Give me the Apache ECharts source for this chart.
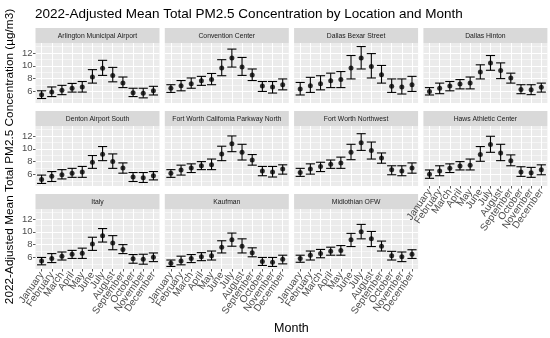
<!DOCTYPE html>
<html>
<head>
<meta charset="utf-8">
<script src="https://cdn.jsdelivr.net/npm/echarts@6/dist/echarts.min.js"></script>
<style>html,body{margin:0;padding:0;background:#fff}#c{width:550px;height:338px}</style>
</head>
<body>
<div id="c"></div>
<script>
const months = ['January','February','March','April','May','June','July','August','September','October','November','December'];
const sites = ['Arlington Municipal Airport','Convention Center','Dallas Bexar Street','Dallas Hinton','Denton Airport South','Fort Worth California Parkway North','Fort Worth Northwest','Haws Athletic Center','Italy','Kaufman','Midlothian OFW'];
const yTicks = [6, 8, 10, 12];
const yMinorTicks = [5, 7, 9, 11, 13];

const meanArlington = [5.5, 5.9, 6.2, 6.5, 6.7, 8.25, 9.6, 8.5, 7.3, 5.8, 5.7, 6.1];
const lowArlington  = [4.9, 5.2, 5.5, 5.9, 5.9, 7.3, 8.5, 7.5, 6.6, 5.2, 5.0, 5.45];
const highArlington = [6.1, 6.7, 6.95, 7.25, 7.55, 9.4, 10.85, 9.75, 8.25, 6.5, 6.5, 6.8];

const meanConvention = [6.5, 6.9, 7.2, 7.65, 7.85, 9.65, 11.2, 9.8, 8.55, 6.85, 6.7, 7.05];
const lowConvention  = [5.85, 6.1, 6.5, 6.95, 7.05, 8.45, 9.8, 8.5, 7.7, 6.0, 5.75, 6.25];
const highConvention = [7.05, 7.7, 8.1, 8.35, 8.8, 10.95, 12.6, 11.3, 9.5, 7.55, 7.55, 7.95];

const meanBexar = [6.4, 6.9, 7.2, 7.65, 7.85, 9.65, 11.2, 9.9, 8.6, 6.8, 6.7, 7.05];
const lowBexar  = [5.45, 5.85, 6.25, 6.6, 6.6, 7.95, 9.5, 8.1, 7.3, 5.85, 5.6, 6.0];
const highBexar = [7.4, 8.2, 8.45, 8.85, 9.1, 11.6, 13.0, 11.9, 10.05, 7.95, 7.95, 8.35];

const meanHinton = [6.0, 6.5, 6.85, 7.15, 7.3, 9.05, 10.45, 9.25, 8.1, 6.3, 6.25, 6.65];
const lowHinton  = [5.45, 5.65, 6.1, 6.4, 6.4, 7.95, 9.3, 8.0, 7.3, 5.65, 5.5, 5.9];
const highHinton = [6.6, 7.3, 7.55, 7.85, 8.25, 10.15, 11.6, 10.45, 8.85, 7.05, 7.05, 7.3];

const meanDenton = [5.2, 5.7, 5.95, 6.2, 6.4, 7.9, 9.15, 8.0, 7.0, 5.6, 5.5, 5.8];
const lowDenton  = [4.6, 4.9, 5.3, 5.55, 5.55, 6.95, 8.15, 6.95, 6.2, 4.9, 4.75, 5.15];
const highDenton = [5.9, 6.45, 6.75, 6.95, 7.25, 8.95, 10.35, 9.2, 7.8, 6.3, 6.3, 6.45];

const meanFWCalifornia = [6.2, 6.7, 7.0, 7.35, 7.5, 9.2, 10.8, 9.45, 8.25, 6.55, 6.4, 6.85];
const lowFWCalifornia  = [5.55, 5.9, 6.3, 6.75, 6.75, 8.15, 9.55, 8.25, 7.45, 5.8, 5.6, 6.05];
const highFWCalifornia = [6.75, 7.45, 7.65, 8.0, 8.4, 10.4, 12.0, 10.7, 9.1, 7.25, 7.25, 7.5];

const meanFWNorthwest = [6.3, 6.85, 7.25, 7.6, 7.8, 9.45, 10.95, 9.75, 8.55, 6.75, 6.55, 7.0];
const lowFWNorthwest  = [5.7, 6.05, 6.45, 6.95, 6.95, 8.3, 9.75, 8.4, 7.75, 5.95, 5.8, 6.2];
const highFWNorthwest = [6.95, 7.65, 7.9, 8.25, 8.7, 10.7, 12.35, 11.05, 9.35, 7.35, 7.35, 7.8];

const meanHaws = [6.05, 6.55, 6.95, 7.3, 7.45, 9.1, 10.65, 9.35, 8.15, 6.4, 6.25, 6.75];
const lowHaws  = [5.4, 5.8, 6.3, 6.7, 6.7, 8.05, 9.45, 8.15, 7.35, 5.7, 5.55, 5.95];
const highHaws = [6.7, 7.35, 7.65, 8.0, 8.4, 10.35, 11.95, 10.7, 9.05, 7.2, 7.1, 7.5];

const meanItaly = [5.45, 5.85, 6.2, 6.5, 6.65, 8.1, 9.4, 8.25, 7.25, 5.8, 5.7, 6.05];
const lowItaly  = [4.85, 5.2, 5.6, 5.85, 5.85, 7.1, 8.4, 7.2, 6.6, 5.1, 4.95, 5.35];
const highItaly = [6.0, 6.6, 6.85, 7.1, 7.45, 9.15, 10.5, 9.4, 8.0, 6.45, 6.5, 6.7];

const meanKaufman = [5.1, 5.45, 5.85, 6.1, 6.25, 7.6, 8.75, 7.75, 6.75, 5.35, 5.25, 5.7];
const lowKaufman  = [4.6, 4.85, 5.2, 5.5, 5.6, 6.7, 7.75, 6.7, 6.1, 4.75, 4.6, 5.0];
const highKaufman = [5.6, 6.2, 6.45, 6.75, 7.0, 8.6, 9.8, 8.9, 7.5, 6.0, 6.0, 6.35];

const meanMidlothian = [5.85, 6.35, 6.6, 6.95, 7.1, 8.75, 10.0, 8.9, 7.75, 6.25, 6.1, 6.5];
const lowMidlothian  = [5.25, 5.6, 5.95, 6.35, 6.35, 7.7, 8.9, 7.7, 7.0, 5.6, 5.35, 5.85];
const highMidlothian = [6.35, 7.0, 7.25, 7.6, 7.85, 9.75, 11.15, 10.05, 8.55, 6.95, 6.85, 7.2];

const siteMeans = [meanArlington, meanConvention, meanBexar, meanHinton, meanDenton, meanFWCalifornia, meanFWNorthwest, meanHaws, meanItaly, meanKaufman, meanMidlothian];
const siteLows  = [lowArlington, lowConvention, lowBexar, lowHinton, lowDenton, lowFWCalifornia, lowFWNorthwest, lowHaws, lowItaly, lowKaufman, lowMidlothian];
const siteHighs = [highArlington, highConvention, highBexar, highHinton, highDenton, highFWCalifornia, highFWNorthwest, highHaws, highItaly, highKaufman, highMidlothian];

// layout
const FONT = "'Liberation Sans', Arial, sans-serif";
const L0 = 35.5, PITCH_X = 129.3, PW = 124;
const S0 = 28, PITCH_Y = 83, SH = 15, PH = 60;
const Y_MIN = 4.2, Y_MAX = 13.55;
const X_MIN = 0.4, X_MAX = 12.6;
const monthIdx = months.map((m, i) => i + 1);
const oddMonths = monthIdx.filter(m => m % 2 === 1);
const evenMonths = monthIdx.filter(m => m % 2 === 0);

const grids = [], xAxes = [], yAxes = [], series = [], graphics = [];
const nCols = 4, n = sites.length;

const labelStyle = (show, values) => ({
  show, customValues: values, formatter: v => months[Math.round(v) - 1], rotate: 55,
  fontSize: 10, color: '#4d4d4d', fontFamily: FONT, margin: 4,
  showMinLabel: true, showMaxLabel: true, hideOverlap: false
});

sites.forEach((name, i) => {
  const row = Math.floor(i / nCols), col = i % nCols;
  const left = L0 + col * PITCH_X;
  const stripTop = S0 + row * PITCH_Y;
  const top = stripTop + SH;
  const hasBelow = i + nCols < n;
  const showX = !hasBelow;
  const showY = col === 0;

  grids.push({ left, top, width: PW, height: PH, show: true, backgroundColor: '#ebebeb', borderWidth: 0 });

  const xMain = xAxes.length;
  xAxes.push({
    type: 'value', gridIndex: i, min: X_MIN, max: X_MAX, position: 'bottom',
    axisLine: { show: false },
    axisTick: { show: showX, customValues: monthIdx, length: 2.5, lineStyle: { color: '#333333', width: 0.8 } },
    axisLabel: labelStyle(showX, oddMonths),
    splitLine: { show: true, lineStyle: { color: '#ffffff', width: 1 } }
  });
  xAxes.push({
    type: 'value', gridIndex: i, min: X_MIN, max: X_MAX, position: 'bottom', offset: 0,
    axisLine: { show: false },
    axisTick: { show: false, customValues: evenMonths },
    axisLabel: labelStyle(showX, evenMonths),
    splitLine: { show: false }
  });

  const yMain = yAxes.length;
  yAxes.push({
    type: 'value', gridIndex: i, min: Y_MIN, max: Y_MAX,
    axisLine: { show: false },
    axisTick: { show: showY, customValues: yTicks, length: 2.5, lineStyle: { color: '#333333', width: 0.8 } },
    axisLabel: { show: showY, customValues: yTicks, fontSize: 9.5, color: '#4d4d4d', fontFamily: FONT, margin: 3 },
    splitLine: { show: true, lineStyle: { color: '#ffffff', width: 1 } }
  });
  yAxes.push({
    type: 'value', gridIndex: i, min: Y_MIN, max: Y_MAX, position: 'left',
    axisLine: { show: false },
    axisTick: { show: false, customValues: yMinorTicks },
    axisLabel: { show: false, customValues: yMinorTicks },
    splitLine: { show: true, lineStyle: { color: '#ffffff', width: 0.5 } }
  });

  const mean = siteMeans[i], lo = siteLows[i], hi = siteHighs[i];
  series.push({
    type: 'custom', xAxisIndex: xMain, yAxisIndex: yMain,
    encode: { x: 0, y: [1, 2] },
    data: monthIdx.map((m, k) => [m, lo[k], hi[k]]),
    renderItem: (params, api) => {
      const x = api.value(0), l = api.value(1), h = api.value(2);
      const pl = api.coord([x, l]), ph = api.coord([x, h]);
      const a = api.coord([x - 0.45, h])[0], b = api.coord([x + 0.45, h])[0];
      const st = { stroke: '#000', lineWidth: 1.1 };
      return { type: 'group', children: [
        { type: 'line', shape: { x1: pl[0], y1: pl[1], x2: ph[0], y2: ph[1] }, style: st },
        { type: 'line', shape: { x1: a, y1: ph[1], x2: b, y2: ph[1] }, style: st },
        { type: 'line', shape: { x1: a, y1: pl[1], x2: b, y2: pl[1] }, style: st }
      ]};
    },
    z: 3, silent: true
  });
  series.push({
    type: 'scatter', xAxisIndex: xMain, yAxisIndex: yMain,
    data: monthIdx.map((m, k) => [m, mean[k]]),
    symbol: 'circle', symbolSize: 5, itemStyle: { color: '#000' }, z: 4, silent: true
  });

  graphics.push({ type: 'rect', shape: { x: left, y: stripTop, width: PW, height: SH }, style: { fill: '#d9d9d9' }, silent: true });
  graphics.push({ type: 'text', x: left + PW / 2, y: stripTop + SH / 2 + 0.5, style: { text: name, textAlign: 'center', textVerticalAlign: 'middle', fill: '#1a1a1a', font: '6.8px ' + FONT }, silent: true });
});

graphics.push({ type: 'text', x: 35, y: 14, style: { text: '2022-Adjusted Mean Total PM2.5 Concentration by Location and Month', textAlign: 'left', textVerticalAlign: 'middle', fill: '#000', font: '13.5px ' + FONT } });
graphics.push({ type: 'text', x: 10, y: 156.5, rotation: Math.PI / 2, style: { text: '2022-Adjusted Mean Total PM2.5 Concentration (\u00b5g/m3)', textAlign: 'center', textVerticalAlign: 'middle', fill: '#000', font: '11.8px ' + FONT } });
graphics.push({ type: 'text', x: L0 + (3 * PITCH_X + PW) / 2, y: 329, style: { text: 'Month', textAlign: 'center', textVerticalAlign: 'middle', fill: '#000', font: '12.5px ' + FONT } });

const chart = echarts.init(document.getElementById('c'), null, { renderer: 'canvas' });
chart.setOption({
  animation: false,
  backgroundColor: '#ffffff',
  grid: grids, xAxis: xAxes, yAxis: yAxes, series, graphic: graphics
});
</script>
</body>
</html>
